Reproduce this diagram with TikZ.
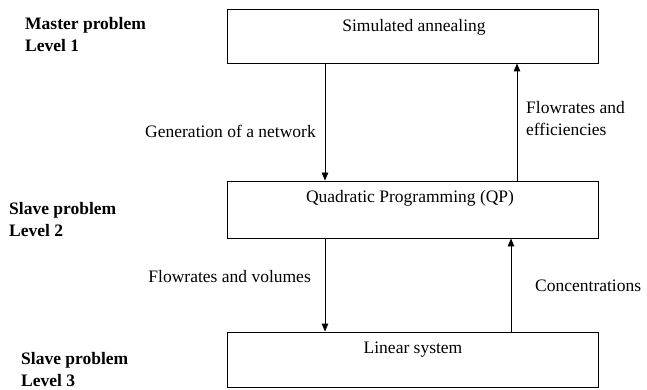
\documentclass[tikz,border=0pt]{standalone}
\usepackage{fontspec}
\setmainfont{Liberation Serif}
\usetikzlibrary{arrows.meta}
\begin{document}
\begin{tikzpicture}[x=1pt,y=1pt,
  font=\fontsize{17.5}{22}\selectfont,
  box/.style={draw, line width=0.9pt, minimum width=371pt, inner sep=0pt},
  lbl/.style={inner sep=0pt},
  lvl/.style={inner sep=0pt, anchor=west, align=left, font=\fontsize{17.5}{22}\selectfont\bfseries},
  arr/.style={line width=0.9pt, -{Triangle[length=8pt,width=6.5pt]}}]
\useasboundingbox (0,0) rectangle (647,-390);
% boxes
\node[box, minimum height=54pt] (sa) at (413,-36) {};
\node[box, minimum height=57pt] (qp) at (413,-209.5) {};
\node[box, minimum height=55pt] (ls) at (413,-359.5) {};
% box texts
\node[lbl] (tsa) at (414,-27) {Simulated annealing};
\node[lbl] (tqp) at (410,-198) {Quadratic Programming (QP)};
\node[lbl] (tls) at (413,-350) {Linear system};
% level labels
\node[lvl] (l1) at (25,-35) {Master problem\\Level 1};
\node[lvl] (l2) at (9,-220) {Slave problem\\Level 2};
\node[lvl] (l3) at (21,-370) {Slave problem\\Level 3};
% connectors
\draw[arr] ([xshift=-88pt]sa.south) -- ([xshift=-88pt]qp.north);
\draw[arr] ([xshift=104pt]qp.north) -- ([xshift=104pt]sa.south);
\draw[arr] ([xshift=-88pt]qp.south) -- ([xshift=-88pt]ls.north);
\draw[arr] ([xshift=98pt]ls.north) -- ([xshift=98pt]qp.south);
% connector labels
\node[lbl, anchor=east] (g) at (316,-131) {Generation of a network};
\node[lbl, anchor=west, align=left] (fe) at (526,-119) {Flowrates and\\efficiencies};
\node[lbl, anchor=east] (fv) at (311,-277) {Flowrates and volumes};
\node[lbl, anchor=west] (c) at (535,-286) {Concentrations};
\end{tikzpicture}
\end{document}
